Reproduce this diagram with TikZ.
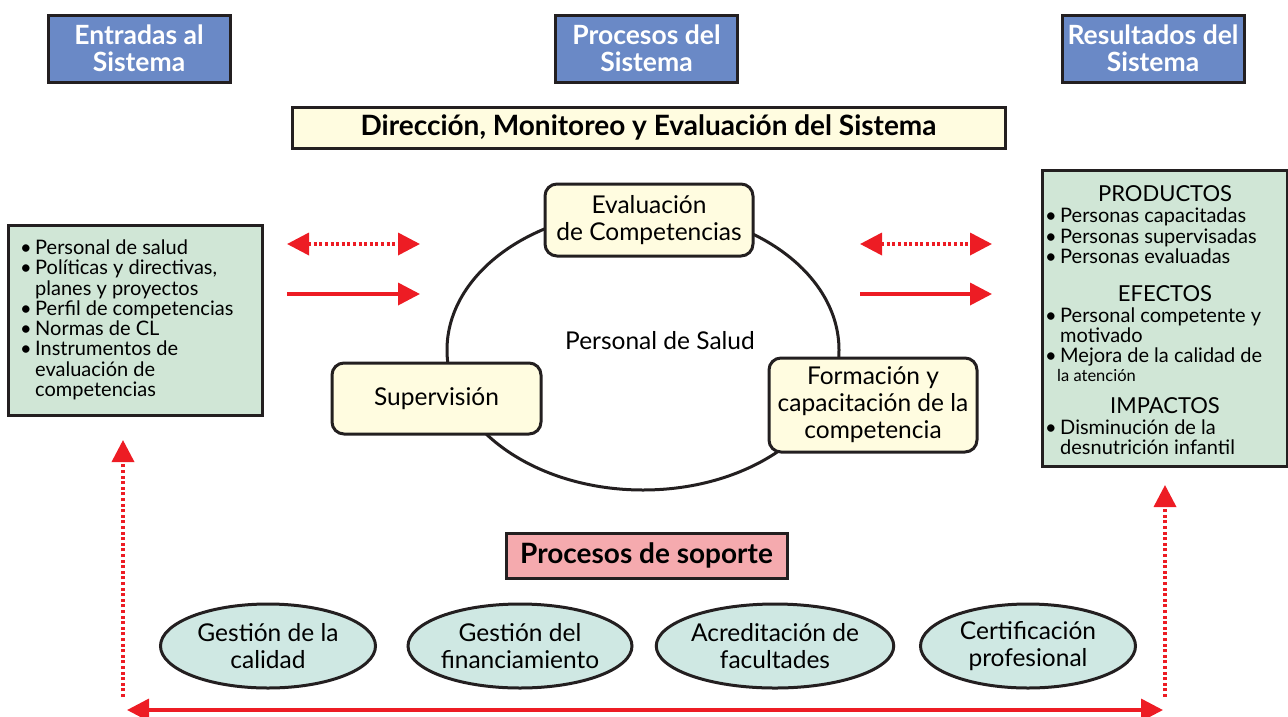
\documentclass[tikz,border=0pt]{standalone}
\usepackage{fontspec}
\setmainfont{Lato}
\usetikzlibrary{arrows.meta,shapes.geometric}
\definecolor{hdrblue}{HTML}{6A89C6}
\definecolor{boxgreen}{HTML}{D0E6D6}
\definecolor{paleyellow}{HTML}{FFFCE0}
\definecolor{softpink}{HTML}{F5AAAE}
\definecolor{paleteal}{HTML}{CFE8E3}
\definecolor{arrred}{HTML}{ED1C24}
\definecolor{edge}{HTML}{231F20}
\begin{document}
\begin{tikzpicture}[x=1pt,y=-1pt,
  hdr/.style={draw=edge,line width=3pt,fill=hdrblue,text=white,align=center,
    font=\fontsize{26.5}{27}\selectfont\bfseries,inner sep=0pt},
  bar/.style={draw=edge,line width=3pt,align=center,inner sep=0pt,
    font=\fontsize{28}{28}\selectfont\bfseries},
  listbox/.style={draw=edge,line width=3pt,fill=boxgreen,inner sep=0pt},
  cycbox/.style={draw=edge,line width=3pt,fill=paleyellow,rounded corners=12pt,
    align=center,inner sep=0pt,font=\fontsize{24.5}{27}\selectfont},
  supp/.style={ellipse,draw=edge,line width=3pt,fill=paleteal,align=center,
    inner sep=0pt,minimum width=215pt,minimum height=84pt,
    font=\fontsize{24.5}{27}\selectfont},
  itm/.style={anchor=base west,inner sep=0pt,font=\fontsize{20}{20}\selectfont},
  hd/.style={anchor=base,inner sep=0pt,font=\fontsize{22}{22}\selectfont},
  redline/.style={draw=arrred,line width=3.6pt},
  dotline/.style={redline,dash pattern=on 3pt off 2.6pt},
  tip/.style={-{Triangle[length=22pt,width=22pt]}},
  tips/.style={{Triangle[length=22pt,width=22pt]}-{Triangle[length=22pt,width=22pt]}},
]
\useasboundingbox (0,0) rectangle (1288,716);

% headers
\node[hdr,minimum width=182pt,minimum height=67pt] (h1) at (139,48.5) {Entradas al\\Sistema};
\node[hdr,minimum width=182pt,minimum height=67pt] (h2) at (646.5,48.5) {Procesos del\\Sistema};
\node[hdr,minimum width=182pt,minimum height=67pt] (h3) at (1153,48.5) {Resultados del\\Sistema};

\node[bar,fill=paleyellow,minimum width=713pt,minimum height=41pt] (dir) at (648.5,127.5)
  {Direcci\'on, Monitoreo y Evaluaci\'on del Sistema};

% cycle
\draw[edge,line width=3pt] (643,350) ellipse [x radius=196, y radius=140];
\node[inner sep=0pt,font=\fontsize{24.5}{27}\selectfont] (ps) at (660,341) {Personal de Salud};
\node[cycbox,minimum width=208pt,minimum height=72pt] (ev) at (649,220) {Evaluaci\'on\\de Competencias};
\node[cycbox,minimum width=209pt,minimum height=71pt] (sup) at (436.5,398.5) {Supervisi\'on};
\node[cycbox,minimum width=208pt,minimum height=94pt] (for) at (873,405) {Formaci\'on y\\capacitaci\'on de la\\competencia};

% left box
\node[listbox,minimum width=254pt,minimum height=190pt] (inbox) at (135,320) {};
\foreach \n/\yy/\bb/\tx in {
  1/254/1/Personal de salud,
  2/274/1/{Pol\'iticas y directivas,},
  3/295/0/planes y proyectos,
  4/315/1/Perfil de competencias,
  5/335/1/Normas de CL,
  6/355/1/Instrumentos de,
  7/376/0/evaluaci\'on de,
  8/396/0/competencias}{
  \node[itm] (in\n) at (35,\yy) {\tx};
  \ifnum\bb=1 \node[itm] (inb\n) at (20,\yy) {\textbullet};\fi
}

% right box
\node[listbox,minimum width=245pt,minimum height=296pt] (outbox) at (1164.5,318) {};
\node[hd] (pr) at (1165,201) {PRODUCTOS};
\node[hd] (ef) at (1165,301) {EFECTOS};
\node[hd] (im) at (1165,413) {IMPACTOS};
\foreach \n/\yy/\bb/\tx in {
  1/222/1/Personas capacitadas,
  2/243/1/Personas supervisadas,
  3/263/1/Personas evaluadas,
  4/322/1/Personal competente y,
  5/342/0/motivado,
  6/362/1/Mejora de la calidad de,
  8/434/1/Disminuci\'on de la,
  9/454/0/desnutrici\'on infantil}{
  \node[itm] (out\n) at (1060,\yy) {\tx};
  \ifnum\bb=1 \node[itm] (outb\n) at (1045,\yy) {\textbullet};\fi
}
\node[itm,font=\fontsize{16.5}{16}\selectfont] (out7) at (1057,381) {la atenci\'on};

% side arrows
\coordinate (la1) at (287,244); \coordinate (la2) at (420,244);
\coordinate (lb1) at (287,294); \coordinate (lb2) at (420,294);
\coordinate (ra1) at (860,244); \coordinate (ra2) at (992,244);
\coordinate (rb1) at (860,294); \coordinate (rb2) at (992,294);
\draw[dotline,tips] (la1) -- (la2);
\draw[redline,tip] (lb1) -- (lb2);
\draw[dotline,tips] (ra1) -- (ra2);
\draw[redline,tip] (rb1) -- (rb2);

% support
\node[bar,fill=softpink,minimum width=281pt,minimum height=45pt] (sop) at (646.5,555.5) {Procesos de soporte};
\node[supp] (s1) at (268,646) {Gesti\'on de la\\calidad};
\node[supp] (s2) at (520,646) {Gesti\'on del\\financiamiento};
\node[supp] (s3) at (775,646) {Acreditaci\'on de\\facultades};
\node[supp] (s4) at (1028,646) {Certificaci\'on\\profesional};

% bottom arrows
\coordinate (bl) at (127,710); \coordinate (br) at (1163,710);
\draw[redline,tips] (bl) -- (br);
\coordinate (vl1) at (123,697); \coordinate (vl2) at (123,440);
\coordinate (vr1) at (1165,697); \coordinate (vr2) at (1165,485);
\draw[dotline,tip] (vl1) -- (vl2);
\draw[dotline,tip] (vr1) -- (vr2);
\end{tikzpicture}
\end{document}
